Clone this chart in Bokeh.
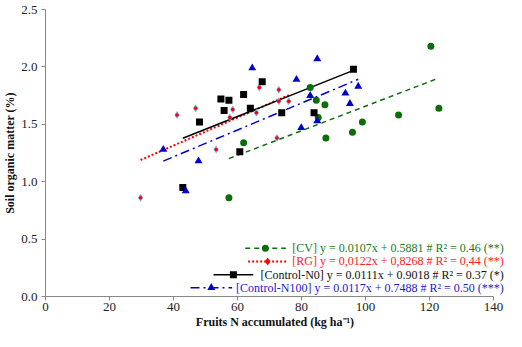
from bokeh.plotting import figure
from bokeh.models import Range1d, FixedTicker, Label
from bokeh.embed import file_html
from bokeh.resources import INLINE

# ---- data ----
cv_x = [57.3, 61.9, 82.7, 84.6, 87.3, 85.2, 99.0, 95.9, 87.6, 120.4, 122.9, 110.3]
cv_y = [0.86, 1.34, 1.82, 1.71, 1.67, 1.56, 1.52, 1.43, 1.38, 2.18, 1.64, 1.58]
rg_x = [29.7, 41.1, 46.9, 53.3, 57.6, 58.5, 65.9, 66.8, 72.3, 72.9, 72.9, 76.0]
rg_y = [0.86, 1.58, 1.64, 1.28, 1.56, 1.63, 1.60, 1.82, 1.38, 1.80, 1.70, 1.70]
n0_x = [42.9, 48.1, 54.8, 55.8, 57.3, 60.7, 61.9, 64.0, 67.7, 73.8, 83.9, 96.2]
n0_y = [0.95, 1.52, 1.72, 1.62, 1.71, 1.26, 1.76, 1.64, 1.87, 1.60, 1.60, 1.98]
n100_x = [36.8, 43.8, 47.8, 64.6, 78.4, 79.9, 82.7, 84.9, 84.9, 93.7, 95.1, 97.7]
n100_y = [1.28, 0.92, 1.18, 1.99, 1.89, 1.47, 1.75, 2.07, 1.53, 1.77, 1.68, 1.83]

slopes = [0.0107, 0.0122, 0.0111, 0.0117]
intercepts = [0.5881, 0.8268, 0.9018, 0.7488]
legend_labels = [
    "[CV] y = 0.0107x + 0.5881 # R\u00b2 = 0.46 (**)",
    "[RG] y = 0,0122x + 0,8268 # R\u00b2 = 0,44 (**)",
    "[Control-N0] y = 0.0111x + 0.9018 # R\u00b2 = 0.37 (*)",
    "[Control-N100] y = 0.0117x + 0.7488 # R\u00b2 = 0.50 (***)",
]
x_ticks = [0, 20, 40, 60, 80, 100, 120, 140]
y_ticks = [0.0, 0.5, 1.0, 1.5, 2.0, 2.5]

GREEN = "#0b6e0b"
RED = "#ff0000"
BLACK = "#000000"
BLUE = "#0000cc"
HALO = "#6b9bd8"
FONT = "Liberation Serif"

p = figure(width=506, height=331, output_backend="svg", toolbar_location=None,
           x_range=Range1d(0, 143.4), y_range=Range1d(0, 2.5),
           min_border_left=42, min_border_right=2, min_border_top=9, min_border_bottom=26)
p.outline_line_color = None
p.xgrid.visible = False
p.ygrid.visible = False
p.background_fill_color = "white"
p.border_fill_color = "white"

for ax in (p.xaxis[0], p.yaxis[0]):
    ax.axis_line_color = "#888888"
    ax.major_tick_line_color = "#888888"
    ax.minor_tick_line_color = None
    ax.major_tick_in = 0
    ax.major_tick_out = 4
    ax.major_label_text_font = FONT
    ax.major_label_text_font_size = "13px"
    ax.major_label_text_color = "#222222"
    ax.axis_label_text_font = FONT
    ax.axis_label_text_font_size = "12px"
    ax.axis_label_text_font_style = "bold"
    ax.axis_label_text_color = "#111111"

p.xaxis.bounds = (0, 140)
p.xaxis.ticker = FixedTicker(ticks=x_ticks)
p.yaxis.ticker = FixedTicker(ticks=y_ticks)
p.yaxis.major_label_overrides = {t: f"{t:.1f}" for t in y_ticks}
p.xaxis.axis_label = "Fruits N accumulated (kg ha\u207b\u00b9)"
p.yaxis.axis_label = "Soil organic matter (%)"
p.xaxis.axis_label_standoff = 1
p.yaxis.axis_label_standoff = 1
p.xaxis.major_label_standoff = 2
p.yaxis.major_label_standoff = 4

# ---- trend lines ----
series_x = [cv_x, rg_x, n0_x, n100_x]
styles = [
    dict(line_color=GREEN, line_width=1.5, line_dash="5 4"),
    dict(line_color=RED, line_width=2, line_dash="2 2"),
    dict(line_color=BLACK, line_width=1.5),
    dict(line_color=BLUE, line_width=1.5, line_dash="9 4 2 4"),
]
for xs, a, b, st in zip(series_x, slopes, intercepts, styles):
    x0, x1 = min(xs), max(xs)
    p.line([x0, x1], [a * x0 + b, a * x1 + b], **st)

# ---- points ----
p.scatter(cv_x, cv_y, marker="circle", size=7, fill_color=GREEN, line_color=None)
p.scatter(rg_x, rg_y, marker="diamond", size=8, fill_color=HALO, line_color=None, fill_alpha=0.85)
p.scatter(rg_x, rg_y, marker="circle", size=3.5, fill_color=RED, line_color=None)
p.scatter(n0_x, n0_y, marker="square", size=7, fill_color=BLACK, line_color=None)
p.scatter(n100_x, n100_y, marker="triangle", size=8, fill_color=BLUE, line_color=None)

# ---- legend (manual, right-aligned text) ----
leg_rows_y = [0.42, 0.305, 0.19, 0.077]
leg_line_x = [(62.4, 75.1), (63.3, 75.4), (52.5, 64.9), (45.3, 58.3)]
leg_marker_x = [68.7, 69.4, 58.7, 51.8]
leg_markers = [("circle", 7), ("diamond", 8), ("square", 7), ("triangle", 8)]
leg_colors = [GREEN, RED, BLACK, BLUE]
leg_text_colors = ["#1a7a1a", "#ff1a1a", "#111111", "#1a1acc"]
for i in range(4):
    yy = leg_rows_y[i]
    xa, xb = leg_line_x[i]
    p.line([xa, xb], [yy, yy], **styles[i])
    m, s = leg_markers[i]
    p.scatter([leg_marker_x[i]], [yy], marker=m, size=s,
              fill_color=leg_colors[i], line_color=None)
    p.add_layout(Label(x=143.2, y=yy, text=legend_labels[i], text_align="right",
                       text_baseline="middle", text_font=FONT,
                       text_font_size="12px", text_color=leg_text_colors[i]))

open("out.html", "w").write(file_html(p, INLINE))
